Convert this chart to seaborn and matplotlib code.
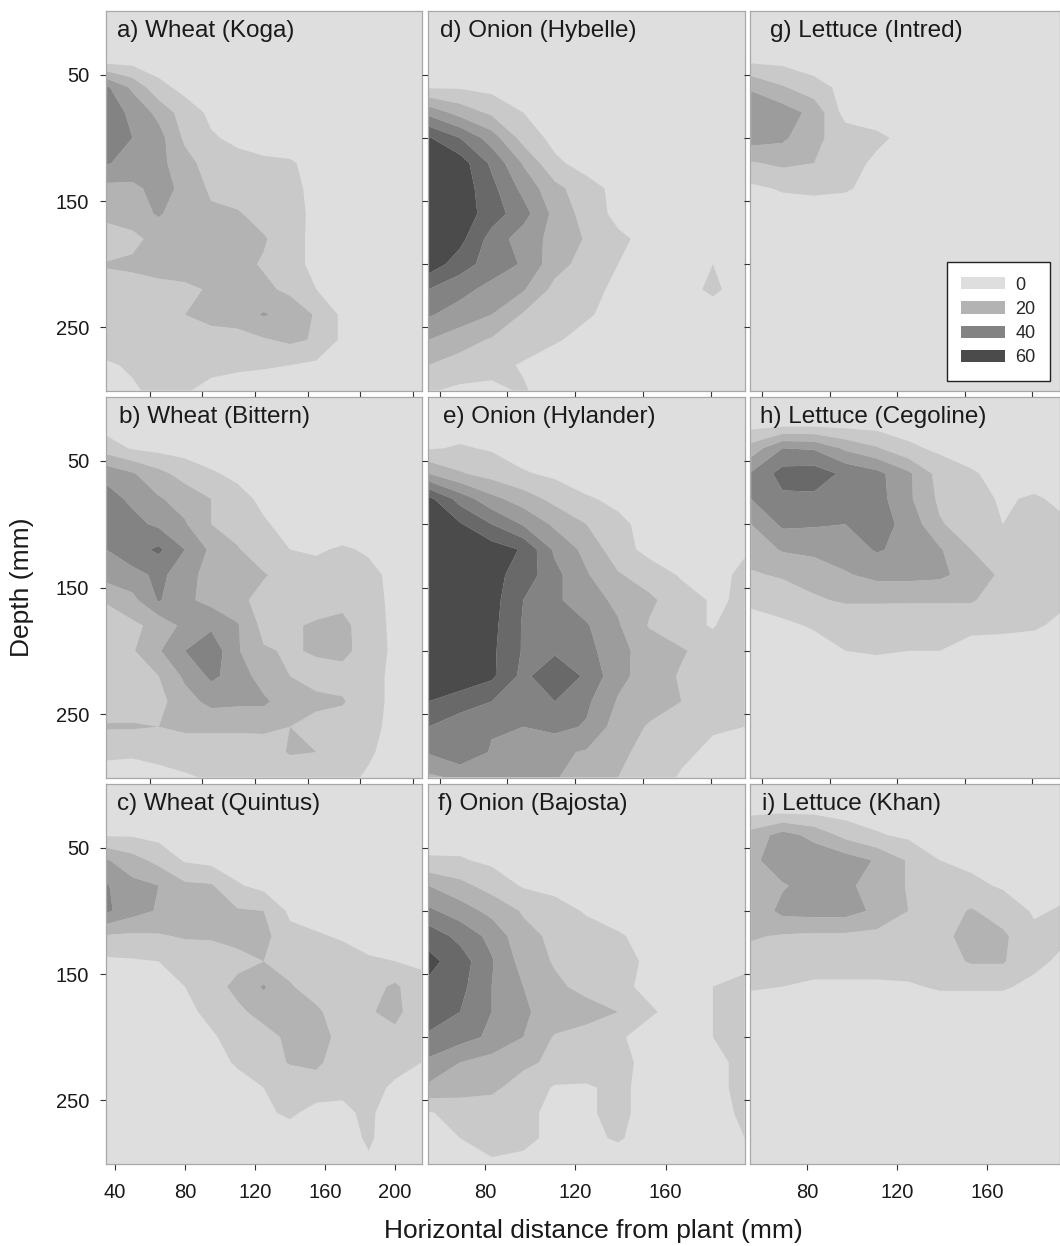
import matplotlib
matplotlib.use('Agg')
import matplotlib.pyplot as plt
from matplotlib.patches import Patch
import numpy as np
import seaborn as sns

# grid coordinates (mm)
depth = [0, 20, 40, 60, 80, 100, 120, 140, 160, 180, 200, 220, 240, 260, 280, 300]
wheat_x = [35, 50, 65, 80, 95, 110, 125, 140, 155, 170, 185, 200, 215]
onion_x = [55, 69, 83, 97, 111, 125, 139, 153, 167, 181, 195]
lettuce_x = [55, 69, 83, 97, 111, 125, 139, 153, 167, 181, 195]

# root density, one row per depth
wheat_koga = [
    [5, 5, 5, 5, 5, 5, 5, 5, 5, 5, 5, 5, 5],
    [5, 5, 5, 5, 5, 5, 5, 5, 5, 5, 5, 5, 5],
    [8, 7, 5, 5, 5, 5, 5, 5, 5, 5, 5, 5, 5],
    [42, 28, 13, 7, 5, 5, 5, 5, 5, 5, 5, 5, 5],
    [45, 38, 27, 15, 8, 5, 5, 5, 5, 5, 5, 5, 5],
    [45, 40, 34, 18, 11, 8, 5, 5, 5, 5, 5, 5, 5],
    [41, 36, 33, 24, 15, 13, 12, 11, 7, 5, 5, 5, 5],
    [27, 28, 33, 28, 18, 15, 14, 12, 8, 5, 5, 5, 5],
    [25, 26, 31, 25, 22, 21, 16, 13, 8, 5, 5, 5, 5],
    [11, 17, 24, 26, 25, 24, 21, 14, 7, 5, 5, 5, 5],
    [21, 22, 24, 25, 24, 23, 19, 14, 7, 5, 5, 5, 5],
    [15, 16, 17, 18, 21, 22, 22, 18, 10, 6, 5, 5, 5],
    [14, 14, 15, 20, 24, 25, 31, 26, 19, 8, 5, 5, 5],
    [14, 13, 13, 14, 15, 16, 19, 22, 19, 8, 5, 5, 5],
    [9, 11, 12, 13, 13, 12, 11, 10, 8, 5, 5, 5, 5],
    [5, 9, 12, 11, 7, 5, 5, 5, 5, 5, 5, 5, 5],
]
wheat_bittern = [
    [5, 5, 5, 5, 5, 5, 5, 5, 5, 5, 5, 5, 5],
    [5, 5, 5, 5, 5, 5, 5, 5, 5, 5, 5, 5, 5],
    [15, 9, 7, 6, 5, 5, 5, 5, 5, 5, 5, 5, 5],
    [37, 31, 23, 16, 11, 8, 6, 5, 5, 5, 5, 5, 5],
    [44, 38, 31, 26, 20, 13, 8, 6, 5, 5, 5, 5, 5],
    [46, 43, 38, 31, 20, 15, 11, 7, 6, 5, 5, 5, 5],
    [40, 46, 52, 40, 28, 21, 13, 10, 9, 11, 9, 6, 5],
    [34, 37, 42, 36, 24, 25, 21, 15, 13, 13, 12, 8, 5],
    [21, 27, 41, 32, 27, 23, 16, 14, 13, 17, 13, 8, 5],
    [14, 18, 23, 33, 38, 31, 17, 18, 22, 23, 14, 8, 5],
    [14, 19, 29, 40, 47, 31, 21, 19, 21, 23, 15, 8, 5],
    [13, 15, 20, 32, 42, 36, 25, 20, 17, 16, 13, 8, 5],
    [14, 15, 17, 26, 33, 32, 32, 24, 22, 21, 13, 8, 5],
    [21, 21, 20, 22, 22, 22, 22, 20, 17, 15, 12, 8, 5],
    [12, 11, 12, 14, 14, 14, 15, 21, 20, 14, 11, 7, 5],
    [6, 7, 8, 9, 11, 12, 13, 13, 13, 12, 9, 6, 5],
]
wheat_quintus = [
    [5, 5, 5, 5, 5, 5, 5, 5, 5, 5, 5, 5, 5],
    [5, 5, 5, 5, 5, 5, 5, 5, 5, 5, 5, 5, 5],
    [9, 9, 7, 6, 5, 5, 5, 5, 5, 5, 5, 5, 5],
    [31, 24, 17, 9, 7, 5, 5, 5, 5, 5, 5, 5, 5],
    [41, 33, 30, 22, 21, 11, 7, 5, 5, 5, 5, 5, 5],
    [42, 34, 29, 24, 21, 21, 20, 8, 6, 5, 5, 5, 5],
    [19, 18, 19, 21, 21, 24, 23, 13, 11, 9, 7, 6, 5],
    [8, 9, 10, 13, 15, 16, 20, 16, 13, 14, 11, 10, 9],
    [5, 5, 6, 10, 14, 24, 31, 21, 15, 19, 16, 22, 12],
    [5, 5, 5, 8, 12, 17, 25, 26, 22, 14, 19, 23, 13],
    [5, 5, 5, 6, 9, 13, 15, 23, 24, 17, 14, 17, 12],
    [5, 5, 5, 5, 7, 11, 14, 21, 23, 12, 10, 12, 10],
    [5, 5, 5, 5, 5, 7, 10, 11, 13, 11, 12, 9, 6],
    [5, 5, 5, 5, 5, 5, 9, 11, 8, 9, 11, 7, 5],
    [5, 5, 5, 5, 5, 5, 5, 7, 6, 7, 11, 6, 5],
    [5, 5, 5, 5, 5, 5, 5, 5, 5, 8, 9, 5, 5],
]
onion_hybelle = [
    [5, 5, 5, 5, 5, 5, 5, 5, 5, 5, 5],
    [5, 5, 5, 5, 5, 5, 5, 5, 5, 5, 5],
    [5, 5, 5, 5, 5, 5, 5, 5, 5, 5, 5],
    [9, 9, 7, 6, 5, 5, 5, 5, 5, 5, 5],
    [37, 26, 18, 10, 6, 5, 5, 5, 5, 5, 5],
    [61, 50, 35, 16, 7, 5, 5, 5, 5, 5, 5],
    [70, 65, 48, 29, 12, 6, 5, 5, 5, 5, 5],
    [68, 66, 53, 37, 23, 14, 7, 5, 5, 5, 5],
    [70, 66, 55, 44, 27, 16, 7, 5, 5, 5, 5],
    [68, 63, 46, 35, 27, 19, 12, 7, 5, 5, 5],
    [66, 55, 45, 39, 24, 16, 10, 6, 5, 10, 5],
    [50, 43, 37, 31, 17, 13, 8, 6, 6, 12, 5],
    [41, 36, 30, 19, 15, 11, 7, 5, 5, 5, 5],
    [30, 24, 19, 15, 11, 7, 5, 5, 5, 5, 5],
    [20, 16, 13, 9, 5, 5, 5, 5, 5, 5, 5],
    [11, 8, 8, 11, 5, 5, 5, 5, 5, 5, 5],
]
onion_hylander = [
    [5, 5, 5, 5, 5, 5, 5, 5, 5, 5, 5],
    [5, 5, 5, 5, 5, 5, 5, 5, 5, 5, 5],
    [9, 11, 9, 5, 5, 5, 5, 5, 5, 5, 5],
    [30, 21, 16, 11, 8, 5, 5, 5, 5, 5, 5],
    [63, 46, 33, 25, 17, 11, 8, 5, 5, 5, 5],
    [67, 61, 50, 39, 28, 20, 12, 7, 5, 5, 5],
    [70, 68, 65, 59, 38, 27, 14, 7, 5, 6, 9],
    [70, 67, 63, 56, 43, 31, 21, 15, 9, 7, 12],
    [70, 68, 64, 50, 42, 34, 28, 22, 14, 9, 11],
    [70, 68, 63, 49, 45, 41, 31, 19, 14, 9, 20],
    [70, 67, 62, 49, 48, 44, 32, 27, 21, 16, 20],
    [70, 67, 62, 47, 59, 48, 33, 25, 19, 14, 18],
    [60, 55, 50, 45, 50, 42, 29, 24, 20, 14, 12],
    [50, 44, 41, 40, 43, 39, 25, 19, 15, 11, 10],
    [41, 48, 39, 35, 32, 29, 22, 17, 12, 8, 10],
    [28, 32, 34, 33, 31, 24, 20, 15, 9, 7, 8],
]
onion_bajosta = [
    [5, 5, 5, 5, 5, 5, 5, 5, 5, 5, 5],
    [5, 5, 5, 5, 5, 5, 5, 5, 5, 5, 5],
    [6, 5, 5, 5, 5, 5, 5, 5, 5, 5, 5],
    [11, 11, 8, 5, 5, 5, 5, 5, 5, 5, 5],
    [30, 23, 16, 9, 7, 5, 5, 5, 5, 5, 5],
    [42, 35, 27, 19, 14, 9, 6, 5, 5, 5, 5],
    [56, 47, 37, 23, 18, 14, 11, 7, 5, 5, 5],
    [63, 55, 41, 26, 19, 16, 12, 9, 6, 9, 9],
    [58, 53, 40, 30, 22, 17, 12, 8, 6, 10, 11],
    [57, 50, 40, 31, 27, 24, 20, 11, 7, 10, 11],
    [48, 44, 38, 30, 19, 16, 11, 7, 6, 10, 11],
    [38, 30, 26, 22, 18, 15, 12, 8, 6, 9, 11],
    [28, 24, 22, 16, 9, 9, 12, 7, 6, 9, 11],
    [9, 14, 15, 12, 8, 9, 12, 7, 5, 8, 11],
    [7, 10, 13, 12, 8, 8, 11, 6, 5, 8, 10],
    [5, 6, 9, 8, 5, 5, 5, 5, 5, 5, 6],
]
lettuce_intred = [
    [5, 5, 5, 5, 5, 5, 5, 5, 5, 5, 5],
    [5, 5, 5, 5, 5, 5, 5, 5, 5, 5, 5],
    [9, 8, 5, 5, 5, 5, 5, 5, 5, 5, 5],
    [29, 21, 14, 7, 5, 5, 5, 5, 5, 5, 5],
    [36, 35, 27, 6, 5, 5, 5, 5, 5, 5, 5],
    [35, 32, 22, 16, 12, 7, 5, 5, 5, 5, 5],
    [19, 22, 20, 14, 8, 5, 5, 5, 5, 5, 5],
    [8, 11, 12, 11, 7, 5, 5, 5, 5, 5, 5],
    [5, 5, 5, 5, 5, 5, 5, 5, 5, 5, 5],
    [5, 5, 5, 5, 5, 5, 5, 5, 5, 5, 5],
    [5, 5, 5, 5, 5, 5, 5, 5, 5, 5, 5],
    [5, 5, 5, 5, 5, 5, 5, 5, 5, 5, 5],
    [5, 5, 5, 5, 5, 5, 5, 5, 5, 5, 5],
    [5, 5, 5, 5, 5, 5, 5, 5, 5, 5, 5],
    [5, 5, 5, 5, 5, 5, 5, 5, 5, 5, 5],
    [5, 5, 5, 5, 5, 5, 5, 5, 5, 5, 5],
]
lettuce_cegoline = [
    [5, 5, 5, 5, 5, 5, 5, 5, 5, 5, 5],
    [5, 5, 5, 5, 5, 5, 5, 5, 5, 5, 5],
    [24, 40, 39, 28, 21, 12, 8, 6, 5, 5, 5],
    [41, 54, 55, 48, 43, 32, 16, 11, 7, 6, 5],
    [40, 48, 48, 49, 44, 32, 18, 13, 9, 11, 8],
    [30, 42, 41, 40, 44, 37, 21, 15, 10, 12, 11],
    [24, 31, 33, 35, 41, 37, 31, 20, 10, 12, 12],
    [19, 21, 23, 29, 33, 33, 32, 26, 18, 13, 12],
    [12, 15, 19, 21, 21, 21, 21, 21, 15, 13, 11],
    [6, 8, 11, 14, 14, 13, 13, 12, 12, 11, 8],
    [5, 5, 6, 10, 11, 10, 10, 7, 6, 6, 5],
    [5, 5, 5, 5, 5, 5, 5, 5, 5, 5, 5],
    [5, 5, 5, 5, 5, 5, 5, 5, 5, 5, 5],
    [5, 5, 5, 5, 5, 5, 5, 5, 5, 5, 5],
    [5, 5, 5, 5, 5, 5, 5, 5, 5, 5, 5],
    [5, 5, 5, 5, 5, 5, 5, 5, 5, 5, 5],
]
lettuce_khan = [
    [5, 5, 5, 5, 5, 5, 5, 5, 5, 5, 5],
    [6, 6, 6, 5, 5, 5, 5, 5, 5, 5, 5],
    [24, 34, 27, 17, 11, 8, 6, 5, 5, 5, 5],
    [27, 37, 37, 35, 29, 19, 10, 8, 6, 5, 5],
    [24, 29, 34, 31, 28, 19, 15, 12, 9, 6, 8],
    [22, 33, 34, 34, 28, 20, 15, 21, 15, 9, 11],
    [21, 19, 18, 18, 17, 16, 17, 24, 22, 12, 11],
    [16, 14, 15, 15, 15, 14, 16, 21, 21, 12, 8],
    [11, 10, 8, 8, 8, 9, 11, 11, 11, 8, 6],
    [5, 5, 5, 5, 5, 5, 5, 5, 5, 5, 5],
    [5, 5, 5, 5, 5, 5, 5, 5, 5, 5, 5],
    [5, 5, 5, 5, 5, 5, 5, 5, 5, 5, 5],
    [5, 5, 5, 5, 5, 5, 5, 5, 5, 5, 5],
    [5, 5, 5, 5, 5, 5, 5, 5, 5, 5, 5],
    [5, 5, 5, 5, 5, 5, 5, 5, 5, 5, 5],
    [5, 5, 5, 5, 5, 5, 5, 5, 5, 5, 5],
]

titles = [
    ["a) Wheat (Koga)", "d) Onion (Hybelle)", "g) Lettuce (Intred)"],
    ["b) Wheat (Bittern)", "e) Onion (Hylander)", "h) Lettuce (Cegoline)"],
    ["c) Wheat (Quintus)", "f) Onion (Bajosta)", "i) Lettuce (Khan)"],
]
grids = [
    [wheat_koga, onion_hybelle, lettuce_intred],
    [wheat_bittern, onion_hylander, lettuce_cegoline],
    [wheat_quintus, onion_bajosta, lettuce_khan],
]
col_x = [wheat_x, onion_x, lettuce_x]
col_xlim = [(34.9, 215.4), (54.8, 195.2), (54.5, 192.5)]
minor_ticks = [[60, 90, 120, 150, 180, 210], [60, 90, 120, 150, 180], [60, 90, 120, 150, 180]]
bottom_ticks = [[40, 80, 120, 160, 200], [80, 120, 160], [80, 120, 160]]
levels = [0, 10, 20, 30, 40, 50, 60, 100]
shades = ['#dedede', '#c9c9c9', '#b3b3b3', '#9c9c9c', '#838383', '#696969', '#4b4b4b']
legend_labels = ['0', '20', '40', '60']
legend_shades = ['#dedede', '#b3b3b3', '#838383', '#4b4b4b']

sns.set_theme(style='white')
plt.rcParams['font.family'] = ['Liberation Sans', 'DejaVu Sans']

W, H = 1060, 1246
fig = plt.figure(figsize=(W / 100, H / 100), dpi=100)
fig.patch.set_facecolor('white')

cols_px = [(106, 422), (428, 745), (750, 1060)]
rows_px = [(11, 391), (397, 778), (784, 1164)]
title_x = [[0.035, 0.038, 0.065], [0.041, 0.047, 0.032], [0.035, 0.032, 0.039]]

for r in range(3):
    for c in range(3):
        x0, x1 = cols_px[c]
        y0, y1 = rows_px[r]
        ax = fig.add_axes([x0 / W, 1 - y1 / H, (x1 - x0) / W, (y1 - y0) / H])
        ax.set_facecolor('#dedede')
        Z = np.array(grids[r][c], dtype=float)
        ax.contourf(col_x[c], depth, Z, levels=levels, colors=shades, antialiased=True)
        ax.set_xlim(*col_xlim[c])
        ax.set_ylim(300.5, -0.5)
        if r < 2:
            ax.set_xticks(minor_ticks[c])
            ax.set_xticklabels([])
        else:
            ax.set_xticks(bottom_ticks[c])
        if c == 0:
            ax.set_yticks([50, 150, 250])
        else:
            ax.set_yticks([50, 100, 150, 200, 250])
            ax.set_yticklabels([])
        ax.tick_params(axis='both', direction='out', length=4, width=0.8, color='#333333',
                       labelsize=14.5, labelcolor='#1a1a1a', pad=8,
                       bottom=True, left=True, top=False, right=False)
        ax.tick_params(axis='x', pad=10)
        for s in ax.spines.values():
            s.set_color('#a8a8a8')
            s.set_linewidth(0.9)
        ax.text(title_x[r][c], 0.976, titles[r][c], transform=ax.transAxes,
                ha='left', va='top', fontsize=17.5, color='#1a1a1a')
        if r == 0 and c == 2:
            handles = [Patch(facecolor=s, edgecolor='none') for s in legend_shades]
            leg = ax.legend(handles, legend_labels, loc='upper right',
                            bbox_to_anchor=(0.968, 0.339), borderaxespad=0,
                            fontsize=13, frameon=True, fancybox=False,
                            handlelength=2.4, handleheight=0.65, labelspacing=0.4,
                            handletextpad=0.6, borderpad=0.8)
            leg.get_frame().set_edgecolor('#222222')
            leg.get_frame().set_linewidth(1.0)
            leg.get_frame().set_facecolor('white')
            leg.get_frame().set_alpha(1)

fig.text(22 / W, 1 - 587 / H, 'Depth (mm)', rotation=90, ha='center', va='center',
         fontsize=19, color='#1a1a1a')
fig.text(593 / W, 1 - 1231 / H, 'Horizontal distance from plant (mm)', ha='center',
         va='center', fontsize=19, color='#1a1a1a')

fig.savefig('out.png', dpi=100, facecolor='white')
